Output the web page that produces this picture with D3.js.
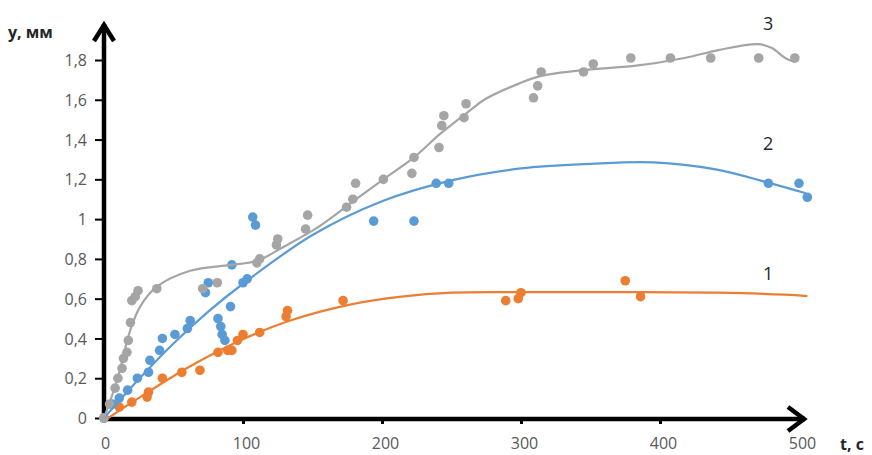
<!DOCTYPE html>
<html>
<head>
<meta charset="utf-8">
<script src="https://cdn.jsdelivr.net/npm/d3@7"></script>
<style>
  html, body { margin: 0; padding: 0; background: #fff; }
  svg { display: block; }
  .tick-label { font-family: "Open Sans", "Liberation Sans", sans-serif; font-size: 16px; fill: #595959; }
  .axis-title { font-family: "Open Sans", "Liberation Sans", sans-serif; font-size: 16px; font-weight: bold; fill: #262626; }
  .series-label { font-family: "Open Sans", "Liberation Sans", sans-serif; font-size: 18px; fill: #262626; }
</style>
</head>
<body>
<svg id="chart" width="872" height="455"></svg>
<script>
// Axis ticks
const xTicks = [0, 100, 200, 300, 400, 500];
const yTicks = [0, 0.2, 0.4, 0.6, 0.8, 1, 1.2, 1.4, 1.6, 1.8];
const yTickLabels = ["0", "0,2", "0,4", "0,6", "0,8", "1", "1,2", "1,4", "1,6", "1,8"];
const seriesNames = ["1", "2", "3"];
const seriesColors = ["#ED7D31", "#5B9BD5", "#A5A5A5"];

// Series 1 – measured points
const s1T = [0, 11, 20, 31, 32, 42, 56, 69, 82, 89, 92, 96, 100, 112, 131, 132, 172, 289, 298, 300, 375, 386];
const s1Y = [0, 0.055, 0.08, 0.105, 0.13, 0.2, 0.23, 0.24, 0.33, 0.34, 0.34, 0.39, 0.42, 0.43, 0.51, 0.54, 0.59, 0.59, 0.6, 0.63, 0.69, 0.61];
// Series 1 – trend curve
const c1T = [3, 26, 62, 98, 134, 177, 214, 250, 298, 370, 442, 490, 506];
const c1Y = [0, 0.105, 0.26, 0.39, 0.49, 0.57, 0.61, 0.63, 0.633, 0.633, 0.63, 0.62, 0.613];

// Series 2 – measured points
const s2T = [0, 6, 11, 17, 24, 32, 33, 40, 42, 51, 60, 62, 73, 75, 82, 84, 85, 87, 91, 92, 100, 103, 107, 109, 194, 223, 239, 248, 478, 500, 506];
const s2Y = [0, 0.07, 0.1, 0.14, 0.2, 0.23, 0.29, 0.34, 0.4, 0.42, 0.45, 0.49, 0.63, 0.68, 0.5, 0.46, 0.42, 0.39, 0.56, 0.77, 0.68, 0.7, 1.01, 0.97, 0.99, 0.99, 1.18, 1.18, 1.18, 1.18, 1.11];
// Series 2 – trend curve
const c2T = [0, 25, 50, 75, 100, 150, 200, 250, 300, 350, 395, 440, 477, 505];
const c2Y = [0, 0.195, 0.375, 0.535, 0.675, 0.92, 1.09, 1.195, 1.255, 1.278, 1.285, 1.25, 1.185, 1.13];

// Series 3 – measured points
const s3T = [0, 4, 8, 10, 13, 14, 16.5, 17.5, 19, 20, 22.5, 24.5, 38, 71, 81.5, 110, 112, 124, 125, 145, 146.5, 174.5, 179, 181, 201, 221.5, 223, 241, 243, 244.5, 259, 260.5, 309, 312, 314.5, 345, 352, 379, 407.5, 436.5, 471, 497];
const s3Y = [0, 0.07, 0.15, 0.2, 0.25, 0.3, 0.33, 0.39, 0.48, 0.59, 0.61, 0.64, 0.65, 0.65, 0.68, 0.78, 0.8, 0.87, 0.9, 0.95, 1.02, 1.06, 1.1, 1.18, 1.2, 1.23, 1.31, 1.36, 1.47, 1.52, 1.51, 1.58, 1.61, 1.67, 1.74, 1.74, 1.78, 1.81, 1.81, 1.81, 1.81, 1.81];
// Series 3 – trend curve
const c3T = [0, 9.4, 18.8, 26, 38, 62, 91, 110, 129, 154, 177.5, 201, 223, 242, 264, 273.5, 298, 314.5, 345.5, 381.5, 417.5, 442, 471, 480.5, 490, 497];
const c3Y = [0, 0.19, 0.44, 0.56, 0.66, 0.74, 0.77, 0.79, 0.86, 0.96, 1.08, 1.2, 1.31, 1.43, 1.55, 1.6, 1.68, 1.72, 1.75, 1.77, 1.81, 1.85, 1.88, 1.86, 1.81, 1.79];

const points = [
  { t: s1T, y: s1Y }, { t: s2T, y: s2Y }, { t: s3T, y: s3Y }
];
const curves = [
  { t: c1T, y: c1Y }, { t: c2T, y: c2Y }, { t: c3T, y: c3Y }
];

const svg = d3.select("#chart");
const x = d3.scaleLinear().domain([0, 500]).range([104, 799]);
const y = d3.scaleLinear().domain([0, 1.8]).range([418, 60]);

const axisColor = "#000";

// Y axis with tick marks and labels
const yAxis = svg.append("g").attr("transform", `translate(${x(0)},0)`)
  .call(d3.axisLeft(y).tickValues(yTicks).tickSize(9).tickPadding(8)
    .tickFormat((d, i) => yTickLabels[i]));
yAxis.select(".domain").remove();
yAxis.selectAll(".tick line").attr("stroke", axisColor).attr("stroke-width", 2);
yAxis.selectAll(".tick text").attr("class", "tick-label").attr("font-size", null).attr("font-family", null)
  .attr("fill", null).attr("dy", "0.35em");

// X axis with tick marks and labels
const xAxis = svg.append("g").attr("transform", `translate(0,${y(0)})`)
  .call(d3.axisBottom(x).tickValues(xTicks).tickSize(6).tickPadding(14).tickFormat(d3.format("d")));
xAxis.select(".domain").remove();
xAxis.selectAll(".tick line").attr("stroke", axisColor).attr("stroke-width", 3)
  .attr("opacity", (d) => d === 0 || d === 500 ? 0 : 1);
xAxis.selectAll(".tick text").attr("class", "tick-label").attr("font-size", null).attr("font-family", null)
  .attr("fill", null).attr("dy", "0.71em").attr("dx", (d) => d === 0 ? 1 : 3);

// Axis lines with open arrow heads
const ax = svg.append("g").attr("fill", "none").attr("stroke", axisColor)
  .attr("stroke-width", 4.5).attr("stroke-linecap", "butt");
const x0 = x(0), y0 = y(0);
const yTip = 23, xTip = 806;
ax.append("line").attr("x1", x0).attr("y1", y0 + 2).attr("x2", x0).attr("y2", yTip + 1);
ax.append("line").attr("x1", x0 - 2).attr("y1", y0 + 1).attr("x2", xTip - 1).attr("y2", y0 + 1);
ax.append("path").attr("stroke-linejoin", "miter")
  .attr("d", `M${x0 - 10},${yTip + 18} L${x0},${yTip + 2} L${x0 + 10},${yTip + 18}`);
ax.append("path").attr("stroke-linejoin", "miter")
  .attr("d", `M${xTip - 18},${y0 + 1 - 12} L${xTip - 2},${y0 + 1} L${xTip - 18},${y0 + 1 + 12}`);

// Axis titles
svg.append("text").attr("class", "axis-title").attr("x", 8).attr("y", 38).text("y, мм");
svg.append("text").attr("class", "axis-title").attr("x", 840).attr("y", 450).text("t, c");

// Measured points
points.forEach((s, i) => {
  svg.append("g").selectAll("circle")
    .data(s.t.map((t, j) => [t, s.y[j]]))
    .join("circle")
    .attr("cx", (d) => x(d[0]))
    .attr("cy", (d) => y(d[1]))
    .attr("r", 4.8)
    .attr("fill", seriesColors[i]);
});

// Trend curves
const line = d3.line().x((d) => x(d[0])).y((d) => y(d[1])).curve(d3.curveCatmullRom.alpha(0.5));
curves.forEach((c, i) => {
  svg.append("path")
    .datum(c.t.map((t, j) => [t, c.y[j]]))
    .attr("fill", "none")
    .attr("stroke", seriesColors[i])
    .attr("stroke-width", 2.2)
    .attr("d", line);
});

// Curve numbers
const labelPos = [[763, 280], [763, 150], [763, 30]];
seriesNames.forEach((n, i) => {
  svg.append("text").attr("class", "series-label")
    .attr("x", labelPos[i][0]).attr("y", labelPos[i][1]).text(n);
});
</script>
</body>
</html>
